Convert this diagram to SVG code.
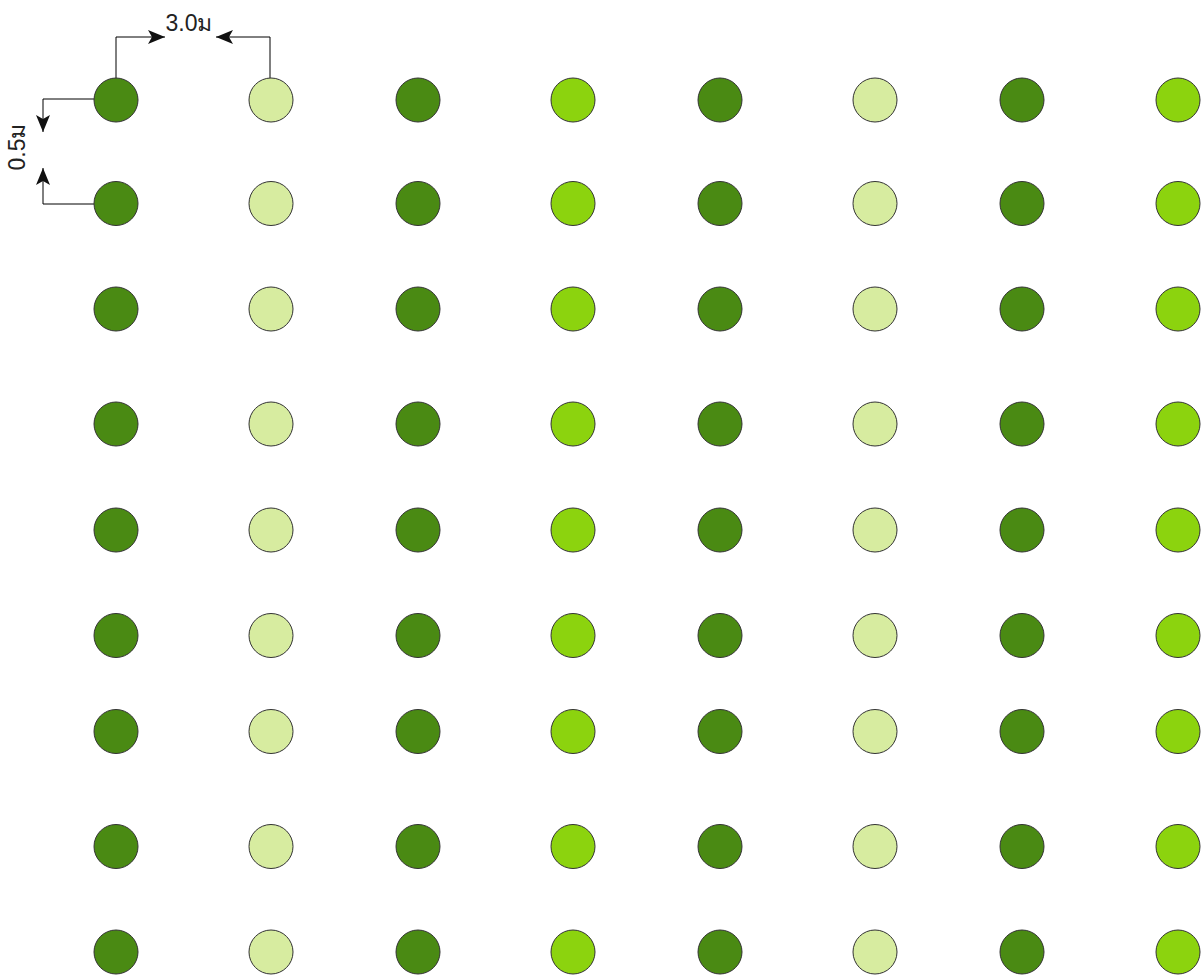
<svg xmlns="http://www.w3.org/2000/svg" width="1203" height="976" viewBox="0 0 1203 976">
<style>
.d{fill:#4a8a13;stroke:#333;stroke-width:1}
.l{fill:#d7eca0;stroke:#333;stroke-width:1}
.b{fill:#8cd30e;stroke:#333;stroke-width:1}
.c{fill:none;stroke:#000;stroke-width:1}
.t{font-family:"Liberation Sans","DejaVu Sans","Noto Sans",sans-serif;font-size:23px;fill:#222}
</style>
<defs>
<marker id="a" viewBox="0 0 17 14" refX="17" refY="7" markerWidth="17" markerHeight="14" markerUnits="userSpaceOnUse" orient="auto">
<path d="M0,0 L17,7 L0,14 L4,7 Z" fill="#111"/>
</marker>
</defs>
<rect width="1203" height="976" fill="#fff"/>
<g id="connectors">
<path class="c" d="M116,78 V37 H165" marker-end="url(#a)"/>
<path class="c" d="M270,78 V37 H216" marker-end="url(#a)"/>
<path class="c" d="M94,99 H43 V132" marker-end="url(#a)"/>
<path class="c" d="M94,204 H43 V168" marker-end="url(#a)"/>
</g>
<g id="labels">
<text class="t" x="189" y="31" text-anchor="middle">3.0ม</text>
<text class="t" transform="translate(25,147) rotate(-90)" text-anchor="middle">0.5ม</text>
</g>
<g id="nodes">
<g id="col1" class="d"><circle cx="116" cy="100" r="22"/><circle cx="116" cy="203.5" r="22"/><circle cx="116" cy="309" r="22"/><circle cx="116" cy="424" r="22"/><circle cx="116" cy="530" r="22"/><circle cx="116" cy="635.5" r="22"/><circle cx="116" cy="731.5" r="22"/><circle cx="116" cy="846.5" r="22"/><circle cx="116" cy="952" r="22"/></g>
<g id="col2" class="l"><circle cx="271" cy="100" r="22"/><circle cx="271" cy="203.5" r="22"/><circle cx="271" cy="309" r="22"/><circle cx="271" cy="424" r="22"/><circle cx="271" cy="530" r="22"/><circle cx="271" cy="635.5" r="22"/><circle cx="271" cy="731.5" r="22"/><circle cx="271" cy="846.5" r="22"/><circle cx="271" cy="952" r="22"/></g>
<g id="col3" class="d"><circle cx="418" cy="100" r="22"/><circle cx="418" cy="203.5" r="22"/><circle cx="418" cy="309" r="22"/><circle cx="418" cy="424" r="22"/><circle cx="418" cy="530" r="22"/><circle cx="418" cy="635.5" r="22"/><circle cx="418" cy="731.5" r="22"/><circle cx="418" cy="846.5" r="22"/><circle cx="418" cy="952" r="22"/></g>
<g id="col4" class="b"><circle cx="573" cy="100" r="22"/><circle cx="573" cy="203.5" r="22"/><circle cx="573" cy="309" r="22"/><circle cx="573" cy="424" r="22"/><circle cx="573" cy="530" r="22"/><circle cx="573" cy="635.5" r="22"/><circle cx="573" cy="731.5" r="22"/><circle cx="573" cy="846.5" r="22"/><circle cx="573" cy="952" r="22"/></g>
<g id="col5" class="d"><circle cx="720" cy="100" r="22"/><circle cx="720" cy="203.5" r="22"/><circle cx="720" cy="309" r="22"/><circle cx="720" cy="424" r="22"/><circle cx="720" cy="530" r="22"/><circle cx="720" cy="635.5" r="22"/><circle cx="720" cy="731.5" r="22"/><circle cx="720" cy="846.5" r="22"/><circle cx="720" cy="952" r="22"/></g>
<g id="col6" class="l"><circle cx="875" cy="100" r="22"/><circle cx="875" cy="203.5" r="22"/><circle cx="875" cy="309" r="22"/><circle cx="875" cy="424" r="22"/><circle cx="875" cy="530" r="22"/><circle cx="875" cy="635.5" r="22"/><circle cx="875" cy="731.5" r="22"/><circle cx="875" cy="846.5" r="22"/><circle cx="875" cy="952" r="22"/></g>
<g id="col7" class="d"><circle cx="1022" cy="100" r="22"/><circle cx="1022" cy="203.5" r="22"/><circle cx="1022" cy="309" r="22"/><circle cx="1022" cy="424" r="22"/><circle cx="1022" cy="530" r="22"/><circle cx="1022" cy="635.5" r="22"/><circle cx="1022" cy="731.5" r="22"/><circle cx="1022" cy="846.5" r="22"/><circle cx="1022" cy="952" r="22"/></g>
<g id="col8" class="b"><circle cx="1178" cy="100" r="22"/><circle cx="1178" cy="203.5" r="22"/><circle cx="1178" cy="309" r="22"/><circle cx="1178" cy="424" r="22"/><circle cx="1178" cy="530" r="22"/><circle cx="1178" cy="635.5" r="22"/><circle cx="1178" cy="731.5" r="22"/><circle cx="1178" cy="846.5" r="22"/><circle cx="1178" cy="952" r="22"/></g>
</g>
</svg>
